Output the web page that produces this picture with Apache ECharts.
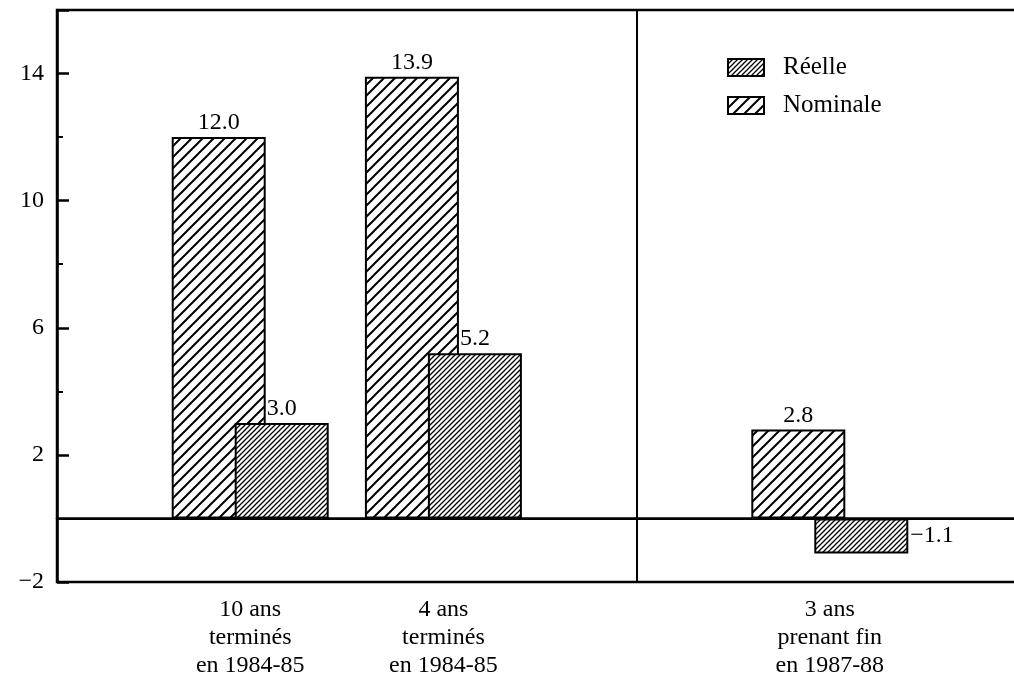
<!DOCTYPE html>
<html>
<head>
<meta charset="utf-8">
<script src="https://cdn.jsdelivr.net/npm/echarts@6/dist/echarts.min.js"></script>
<style>
html,body{margin:0;padding:0;background:#fff;overflow:hidden;}
#chart{width:1014px;height:685px;}
</style>
</head>
<body>
<div id="chart"></div>
<script>
// ---- data ----
var categories = ['', '10 ans\nterminés\nen 1984-85', '4 ans\nterminés\nen 1984-85', '', '3 ans\nprenant fin\nen 1987-88', ''];
var nominale = [null, 12.0, 13.9, null, 2.8, null];
var reelle = [null, 3.0, 5.2, null, -1.1, null];
var seriesNames = ['Réelle', 'Nominale'];
var yMin = -2, yMax = 16, yStep = 4;
var dividerIndex = 3;

var FONT = '"Liberation Serif", "DejaVu Serif", serif';

function hatch(size, lw) {
  var c = document.createElement('canvas');
  c.width = size; c.height = size;
  var g = c.getContext('2d');
  g.fillStyle = '#fff';
  g.fillRect(0, 0, size, size);
  g.strokeStyle = '#000';
  g.lineWidth = lw;
  g.lineCap = 'square';
  g.beginPath();
  g.moveTo(0, size); g.lineTo(size, 0);
  g.moveTo(-2, 2); g.lineTo(2, -2);
  g.moveTo(size - 2, size + 2); g.lineTo(size + 2, size - 2);
  g.stroke();
  return c;
}
var nomPattern = { image: hatch(11, 2), repeat: 'repeat' };
var reePattern = { image: hatch(5, 1.3), repeat: 'repeat' };

function fmt(v) {
  var s = Number(v).toFixed(1);
  return v < 0 ? '\u2212' + s.slice(1) : s;
}

var labelStyle = { color: '#000', fontFamily: FONT, fontSize: 24 };

var chart = echarts.init(document.getElementById('chart'));
chart.setOption({
  animation: false,
  backgroundColor: '#fff',
  grid: {
    left: 57, width: 966, top: 10, bottom: 103,
    outerBoundsMode: 'none',
    containLabel: false,
    show: true, borderColor: '#000', borderWidth: 2.5, backgroundColor: 'transparent'
  },
  legend: {
    data: seriesNames,
    orient: 'vertical',
    left: 727, top: 55,
    padding: 0,
    itemWidth: 36, itemHeight: 17, itemGap: 13,
    icon: 'rect',
    textStyle: { color: '#000', fontFamily: FONT, fontSize: 25, padding: [0, 0, 0, 14] }
  },
  xAxis: {
    type: 'category',
    data: categories,
    boundaryGap: false,
    axisLine: { lineStyle: { color: '#000', width: 2.5 } },
    axisTick: { show: false },
    axisLabel: { interval: 0, color: '#000', fontFamily: FONT, fontSize: 24, lineHeight: 28, margin: 14 },
    splitLine: {
      show: true,
      interval: function (index) { return index === dividerIndex; },
      lineStyle: { color: '#000', width: 2 }
    }
  },
  yAxis: {
    type: 'value',
    min: yMin, max: yMax, interval: yStep,
    axisLine: { show: true, lineStyle: { color: '#000', width: 2.5 } },
    axisTick: { show: true, inside: true, length: 12, lineStyle: { color: '#000', width: 2.5 } },
    minorTick: { show: true, splitNumber: 2, length: 6, lineStyle: { color: '#000', width: 2 } },
    splitLine: { show: false },
    axisLabel: {
      showMaxLabel: false,
      color: '#000', fontFamily: FONT, fontSize: 24, margin: 13,
      formatter: function (v) { return v < 0 ? '\u2212' + (-v) : String(v); }
    }
  },
  series: [
    {
      name: 'Nominale',
      type: 'bar',
      data: nominale,
      barWidth: 94,
      barGap: '-33%',
      itemStyle: { color: nomPattern, borderColor: '#000', borderWidth: 2 },
      label: Object.assign({ show: true, position: 'top', distance: 2, formatter: function (p) { return fmt(p.value); } }, labelStyle),
      markLine: {
        silent: true, symbol: 'none',
        label: { show: false },
        lineStyle: { color: '#000', width: 2, type: 'solid' },
        data: [{ yAxis: 0 }]
      },
      z: 2
    },
    {
      name: 'Réelle',
      type: 'bar',
      data: reelle.map(function (v) {
        if (v == null) return null;
        return { value: v, label: { position: v < 0 ? 'right' : 'top' } };
      }),
      barWidth: 94,
      barGap: '-33%',
      itemStyle: { color: reePattern, borderColor: '#000', borderWidth: 2 },
      label: Object.assign({ show: true, position: 'top', distance: 2, formatter: function (p) { return fmt(p.value); } }, labelStyle),
      z: 3
    }
  ]
});
</script>
</body>
</html>
